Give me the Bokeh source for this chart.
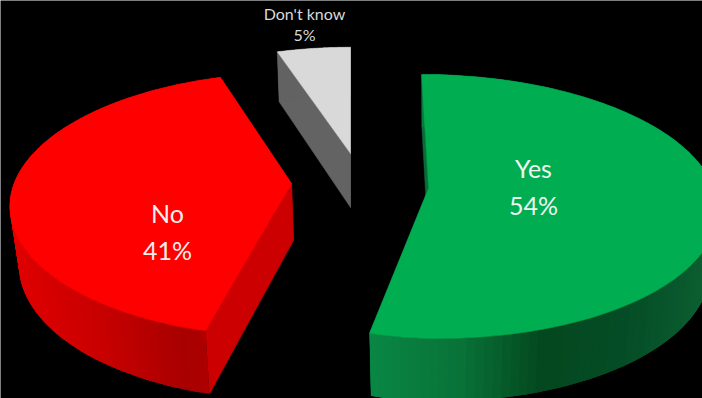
import numpy as np
from bokeh.core.properties import value
from bokeh.embed import file_html
from bokeh.models import Range1d
from bokeh.plotting import figure
from bokeh.resources import INLINE

# Survey answers
categories = ["Yes", "No", "Don't know"]
shares = [54, 41, 5]

# Exploded-slice layout: hub position on screen, radii, lean, and how the lower face sits
slice_layout = {
    "Yes": dict(hub=(428, 188), rx=288, rx_left=238, ry=132, flat=-0.136, tilt=0.06, drop=(0, 57)),
    "No": dict(hub=(291, 183), rx=281, rx_left=281, ry=132, flat=-0.16, tilt=-0.03, drop=(2, 57)),
    "Don't know": dict(hub=(350, 153), rx=270, rx_left=270, ry=123, flat=-0.136, tilt=0.0, drop=(0, 54)),
}
top_colors = {"Yes": "#00ad50", "No": "#ff0000", "Don't know": "#d9d9d9"}
cut_colors = {"Yes": "#0b6b38", "No": "#cc0000", "Don't know": "#636363"}
rim_stops = {
    "Yes": ([370, 460, 543, 627, 700], [(10, 135, 68), (9, 115, 56), (4, 72, 31), (5, 77, 38), (12, 93, 48)]),
    "No": ([10, 100, 183, 215], [(224, 0, 0), (200, 0, 0), (168, 0, 0), (176, 0, 0)]),
    "Don't know": ([270, 360], [(99, 99, 99), (99, 99, 99)]),
}


def to_screen(theta, cfg):
    """Map pie angles (clockwise from twelve o'clock) onto the tilted top face."""
    t = cfg["flat"]
    xc, yc = np.sin(theta), -np.cos(theta)
    denom = 1 + t * yc
    xp = xc * np.sqrt(1 - t ** 2) / denom
    yp = (yc + t) / denom
    sy = cfg["hub"][1] + cfg["ry"] * (yp - t)
    radius = np.where(xp < 0, cfg["rx_left"], cfg["rx"])
    sx = cfg["hub"][0] + radius * xp + cfg["tilt"] * (sy - cfg["hub"][1])
    return sx, sy


def lower(x, y, cfg):
    """Position of a top-face point on the lower face of the slab."""
    ax, ay = cfg["hub"]
    return ax + cfg["drop"][0] + 0.975 * (x - ax), ay + cfg["drop"][1] + 1.04 * (y - ay)


def rgb(stops, x):
    xs, cols = stops
    c = [int(np.interp(x, xs, [k[i] for k in cols])) for i in range(3)]
    return "#%02x%02x%02x" % tuple(c)


p = figure(
    width=702, height=398, output_backend="svg", toolbar_location=None,
    x_range=Range1d(0, 702), y_range=Range1d(398, 0),
    background_fill_color="black", border_fill_color="black",
    min_border=0, outline_line_color=None,
)
p.axis.visible = False
p.grid.visible = False

start = 0.0
for name, share in zip(categories, shares):
    cfg = slice_layout[name]
    a0, a1 = np.radians(start), np.radians(start + share * 3.6)
    start += share * 3.6
    theta = np.linspace(a0, a1, 121)
    rx, ry = to_screen(theta, cfg)
    hx, hy = cfg["hub"]
    lx, ly = lower(rx, ry, cfg)
    lhx, lhy = lower(np.array([hx]), np.array([hy]), cfg)

    # Cut faces running from the hub to the rim
    for i in (0, -1):
        p.patch([hx, rx[i], lx[i], lhx[0]], [hy, ry[i], ly[i], lhy[0]],
                fill_color=cut_colors[name], line_color=cut_colors[name], line_width=0.5)

    # Outer wall in narrow overlapping strips so the shading can vary without seams
    for i in range(len(theta) - 1):
        j = min(i + 3, len(theta) - 1)
        col = rgb(rim_stops[name], (rx[i] + rx[i + 1]) / 2)
        p.patch(np.r_[rx[i:j + 1], lx[i:j + 1][::-1]], np.r_[ry[i:j + 1], ly[i:j + 1][::-1]],
                fill_color=col, line_color=None)

    # Top face
    p.patch(np.r_[hx, rx], np.r_[hy, ry], fill_color=top_colors[name],
            line_color=top_colors[name], line_width=0.5)

font = value("Lato")
p.text([533], [167], text=["Yes"], text_font=font, text_font_size="25px", text_color="#eef7f0",
       text_align="center", text_baseline="middle")
p.text([533], [204], text=[f"{shares[0]}%"], text_font=font, text_font_size="25px", text_color="#eef7f0",
       text_align="center", text_baseline="middle")
p.text([167], [212], text=["No"], text_font=font, text_font_size="25px", text_color="#f8eeee",
       text_align="center", text_baseline="middle")
p.text([167], [249], text=[f"{shares[1]}%"], text_font=font, text_font_size="25px", text_color="#f8eeee",
       text_align="center", text_baseline="middle")
p.text([304], [13], text=["Don't know"], text_font=font, text_font_size="16px", text_color="#d9d9d9",
       text_align="center", text_baseline="middle")
p.text([304], [34], text=[f"{shares[2]}%"], text_font=font, text_font_size="16px", text_color="#d9d9d9",
       text_align="center", text_baseline="middle")

open("out.html", "w").write(file_html(p, INLINE))
